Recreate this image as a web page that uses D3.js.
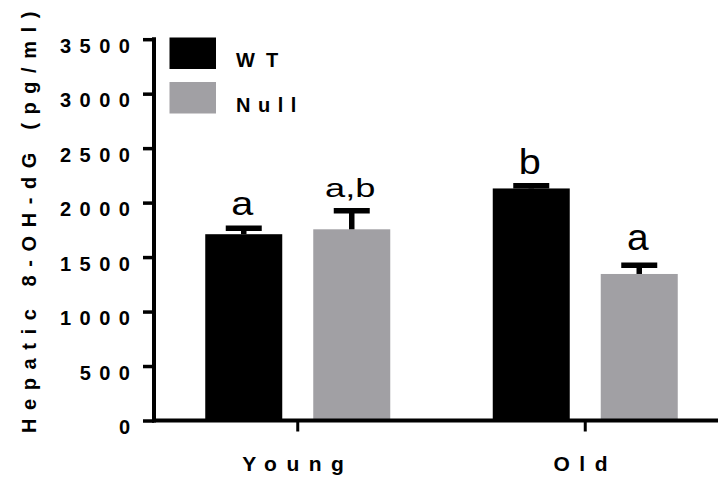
<!DOCTYPE html>
<html>
<head>
<meta charset="utf-8">
<script src="https://cdn.jsdelivr.net/npm/d3@7/dist/d3.min.js"></script>
<style>
  html, body { margin: 0; padding: 0; background: #fff; }
  svg { display: block; }
  text { font-family: "Liberation Sans", Arial, Helvetica, sans-serif; }
</style>
</head>
<body>
<svg id="chart" width="718" height="481"></svg>
<script>
// ---- data ----
const groups = ["Young", "Old"];
const series = ["WT", "Null"];
const means = [
  [1710, 1755],   // Young: WT, Null
  [2130, 1345]    // Old:   WT, Null
];
const sems = [
  [55, 170],
  [25, 80]
];
const letters = [
  ["a", "a,b"],
  ["b", "a"]
];
const yTicks = [0, 500, 1000, 1500, 2000, 2500, 3000, 3500];
const yTitle = "Hepatic 8-OH-dG (pg/ml)";

// ---- styling ----
const colors = { WT: "#000000", Null: "#A1A0A4" };
// font size, horizontal stretch and gap above the error cap for each letter
const letterStyle = [
  [{ fs: 33, sx: 1.2, gap: 12.8 }, { fs: 25, sx: 1.45, gap: 13.7 }],
  [{ fs: 36, sx: 1.1, gap: 11.4 }, { fs: 37, sx: 1.05, gap: 15.3 }]
];

const svg = d3.select("#chart");

const y = d3.scaleLinear().domain([0, 3500]).range([420.5, 39.2]);
const x0 = d3.scaleBand().domain(groups).range([154, 729]).padding(0);
const x1 = d3.scaleBand().domain(series).range([-92.5, 92.5])
  .paddingInner(31 / 108).paddingOuter(0);

const axisX = 154;

// bars
const rows = [];
groups.forEach((g, gi) => series.forEach((s, si) => rows.push({
  g, s, gi, si, mean: means[gi][si], sem: sems[gi][si], letter: letters[gi][si]
})));

const cx = d => x0(d.g) + x0.bandwidth() / 2;

svg.append("g").selectAll("rect").data(rows).join("rect")
  .attr("x", d => cx(d) + x1(d.s))
  .attr("y", d => y(d.mean))
  .attr("width", x1.bandwidth())
  .attr("height", d => y(0) - y(d.mean))
  .attr("fill", d => colors[d.s]);

// error bars (upper half only)
const eb = svg.append("g").attr("stroke", "#000").attr("stroke-width", 5.5);
eb.selectAll("line.stem").data(rows).join("line").attr("class", "stem")
  .attr("x1", d => cx(d) + x1(d.s) + x1.bandwidth() / 2)
  .attr("x2", d => cx(d) + x1(d.s) + x1.bandwidth() / 2)
  .attr("y1", d => y(d.mean))
  .attr("y2", d => y(d.mean + d.sem));
eb.selectAll("line.cap").data(rows).join("line").attr("class", "cap")
  .attr("x1", d => cx(d) + x1(d.s) + x1.bandwidth() / 2 - 18)
  .attr("x2", d => cx(d) + x1(d.s) + x1.bandwidth() / 2 + 18)
  .attr("y1", d => y(d.mean + d.sem))
  .attr("y2", d => y(d.mean + d.sem));

// significance letters
svg.append("g").selectAll("text").data(rows).join("text")
  .attr("transform", d => {
    const st = letterStyle[d.gi][d.si];
    const px = cx(d) + x1(d.s) + x1.bandwidth() / 2 - 1.5;
    const py = y(d.mean + d.sem) - st.gap;
    return `translate(${px},${py}) scale(${st.sx},1)`;
  })
  .attr("text-anchor", "middle")
  .attr("font-size", d => letterStyle[d.gi][d.si].fs)
  .attr("fill", "#000")
  .text(d => d.letter);

// y axis
const yAxis = d3.axisLeft(y).tickValues(yTicks).tickSize(11).tickSizeOuter(0)
  .tickFormat(d3.format("d")).tickPadding(7);
const gy = svg.append("g").attr("transform", `translate(${axisX},0)`).call(yAxis);
gy.select(".domain").remove();
gy.selectAll(".tick line").attr("stroke", "#000").attr("stroke-width", 3.5);
gy.selectAll(".tick text")
  .attr("fill", "#000")
  .attr("font-size", 20)
  .attr("font-weight", "bold")
  .attr("letter-spacing", "8.5px")
  .attr("dy", null)
  .attr("y", 13)
  .attr("x", -15.5);
svg.append("line")
  .attr("x1", axisX).attr("x2", axisX)
  .attr("y1", y(3500) - 2).attr("y2", y(0) + 2)
  .attr("stroke", "#000").attr("stroke-width", 4);

// x axis
const xAxis = d3.axisBottom(x0).tickSize(11).tickSizeOuter(0).tickPadding(0);
const gx = svg.append("g").attr("transform", `translate(0,${y(0)})`).call(xAxis);
gx.select(".domain").remove();
gx.selectAll(".tick line").attr("stroke", "#000").attr("stroke-width", 3);
gx.selectAll(".tick text")
  .attr("fill", "#000")
  .attr("font-size", 21)
  .attr("font-weight", "bold")
  .attr("letter-spacing", "9.5px")
  .attr("dy", null)
  .attr("y", 50);
svg.append("line")
  .attr("x1", axisX - 2).attr("x2", 718)
  .attr("y1", y(0)).attr("y2", y(0))
  .attr("stroke", "#000").attr("stroke-width", 4);

// y axis title
svg.append("text")
  .attr("transform", "translate(36,218) rotate(-90)")
  .attr("text-anchor", "middle")
  .attr("font-size", 20)
  .attr("font-weight", "bold")
  .attr("letter-spacing", "8.6px")
  .attr("fill", "#000")
  .text(yTitle);

// legend
const legend = svg.append("g").selectAll("g").data(series).join("g")
  .attr("transform", (d, i) => `translate(169.5,${37.5 + i * 44.5})`);
legend.append("rect")
  .attr("width", 46.5).attr("height", 31.5)
  .attr("fill", d => colors[d]);
legend.append("text")
  .attr("x", 66.5).attr("y", (d, i) => i === 0 ? 29.5 : 30)
  .attr("font-size", 20)
  .attr("font-weight", "bold")
  .attr("letter-spacing", (d, i) => i === 0 ? "11px" : "7.5px")
  .attr("fill", "#000")
  .text(d => d);
</script>
</body>
</html>
